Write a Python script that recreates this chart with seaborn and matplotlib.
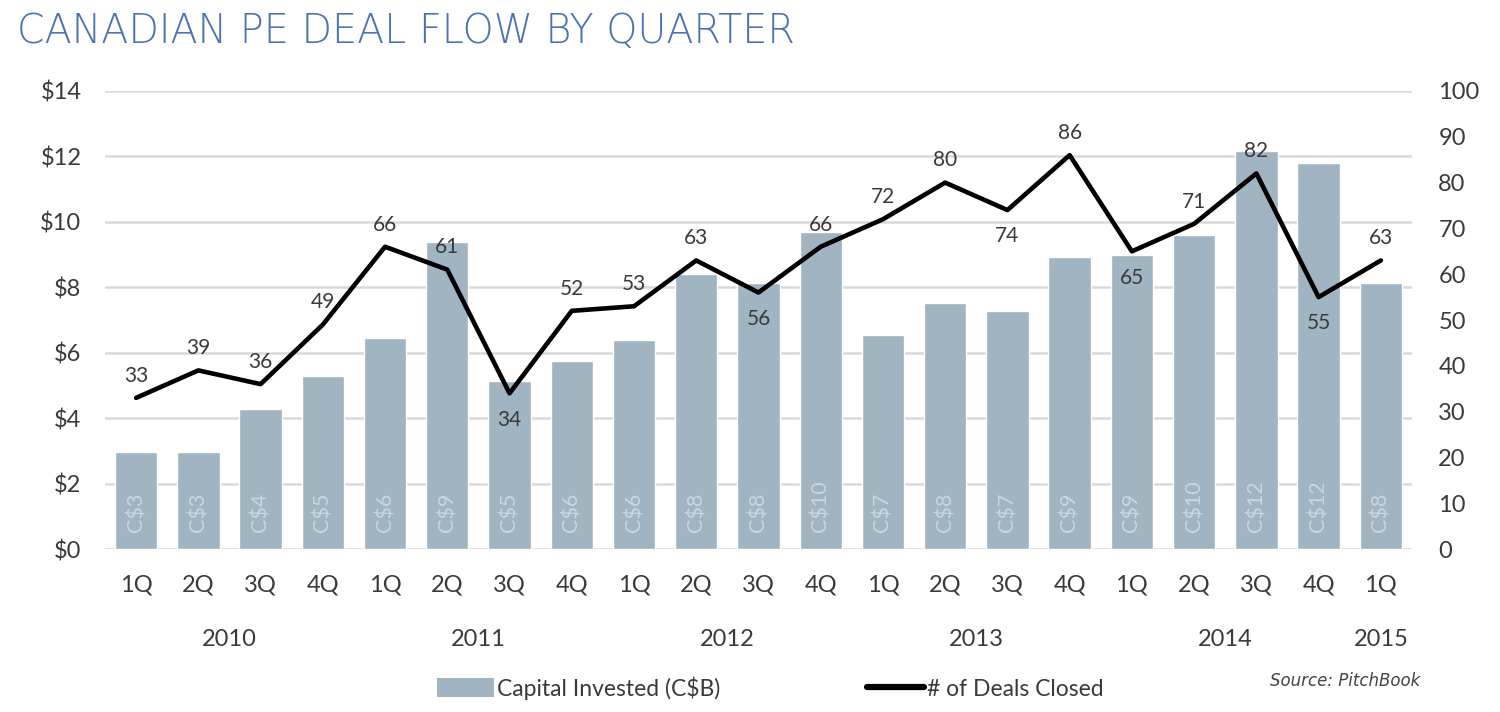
import matplotlib
matplotlib.use("Agg")
import matplotlib.pyplot as plt
import matplotlib.transforms as mtransforms
from matplotlib import font_manager
from matplotlib.patches import Patch
from matplotlib.lines import Line2D
import seaborn as sns
import pandas as pd

# ---------------- data ----------------
quarters = ["1Q", "2Q", "3Q", "4Q", "1Q", "2Q", "3Q", "4Q", "1Q", "2Q", "3Q", "4Q",
            "1Q", "2Q", "3Q", "4Q", "1Q", "2Q", "3Q", "4Q", "1Q"]
years = [2010] * 4 + [2011] * 4 + [2012] * 4 + [2013] * 4 + [2014] * 4 + [2015]
capital = [2.97, 2.96, 4.27, 5.30, 6.46, 9.38, 5.14, 5.75, 6.39, 8.41, 8.13, 9.68,
           6.55, 7.51, 7.27, 8.93, 8.99, 9.60, 12.18, 11.79, 8.12]
deals = [33, 39, 36, 49, 66, 61, 34, 52, 53, 63, 56, 66,
         72, 80, 74, 86, 65, 71, 82, 55, 63]
below_labels = [34, 56, 74, 65, 55]  # deal counts whose label sits below the point
left_ticks = [0, 2, 4, 6, 8, 10, 12, 14]
right_ticks = [0, 10, 20, 30, 40, 50, 60, 70, 80, 90, 100]
title = "CANADIAN PE DEAL FLOW BY QUARTER"

# ---------------- fonts ----------------
fonts = font_manager.fontManager.ttflist
names = {f.name for f in fonts}
def pick(*cands):
    for c in cands:
        if c in names:
            return c
    return "DejaVu Sans"
body_font = pick("Lato", "Open Sans", "Liberation Sans")

def weights(fam):
    out = set()
    for f in fonts:
        if f.name == fam:
            w = f.weight
            if isinstance(w, str):
                w = font_manager.weight_dict.get(w, 400)
            out.add(int(w))
    return out

title_font, title_weight, title_size = "Open Sans", 300, 30
if weights("DejaVu Sans") & {200, 300}:
    title_font, title_weight, title_size = "DejaVu Sans", 200, 28.5
elif not (weights("Open Sans") & {300}):
    title_font, title_weight, title_size = "Lato", "normal", 28

sns.set_theme(style="white")
plt.rcParams["font.family"] = [body_font, "DejaVu Sans"]

BAR = "#a0b4c1"
INBAR = "#cbd7e0"
TXT = "#3a3a3a"
GRID = "#d9d9d9"

df = pd.DataFrame({
    "pos": list(range(len(quarters))),
    "key": [f"{y} {q}" for y, q in zip(years, quarters)],
    "quarter": quarters,
    "year": years,
    "capital": capital,
    "deals": deals,
})

fig = plt.figure(figsize=(15, 7.12), dpi=100)
ax = fig.add_axes([0.07, 0.2289, 0.8713, 0.6433])

sns.barplot(data=df, x="key", y="capital", order=df["key"], color=BAR,
            saturation=1, width=0.68, ax=ax, zorder=2)
ax.set_xlim(-0.5, len(quarters) - 0.5)
ax.set_ylim(0, 14)
ax.set_yticks(left_ticks)
ax.set_yticklabels([f"${v}" for v in left_ticks])
ax.set_xticks(range(len(quarters)))
ax.set_xticklabels(quarters)
ax.set_xlabel("")
ax.set_ylabel("")
ax.grid(axis="y", color=GRID, linewidth=1.8, zorder=0)
ax.set_axisbelow(True)
for s in ax.spines.values():
    s.set_visible(False)
ax.tick_params(axis="x", length=0, pad=18, labelsize=17, labelcolor=TXT)
ax.tick_params(axis="y", length=0, pad=17, labelsize=17, labelcolor=TXT)

# labels inside bars
for i, v in enumerate(capital):
    ax.annotate(f"C${round(v)}", xy=(i, 0), xytext=(0, 12), textcoords="offset points",
                rotation=90, ha="center", va="bottom", color=INBAR, fontsize=15.5, zorder=3)

# line on twin axis
ax2 = ax.twinx()
sns.lineplot(data=df, x="pos", y="deals", color="black", linewidth=3.3, ax=ax2,
             zorder=4, legend=False)
ax2.set_ylim(0, 100)
ax2.set_yticks(right_ticks)
ax2.set_yticklabels([str(v) for v in right_ticks])
ax2.set_xlim(-0.5, len(quarters) - 0.5)
ax2.set_ylabel("")
ax2.set_xlabel("")
ax2.grid(False)
for s in ax2.spines.values():
    s.set_visible(False)
ax2.tick_params(axis="y", length=0, pad=19, labelsize=17, labelcolor=TXT)

for i, d in enumerate(deals):
    off = -19 if d in below_labels else 16
    ax2.annotate(str(d), xy=(i, d), xytext=(0, off), textcoords="offset points",
                 ha="center", va="center", fontsize=15, color=TXT, zorder=5)

# year labels centered under each group
trans = mtransforms.blended_transform_factory(ax.transData, fig.transFigure)
for y in sorted(set(years)):
    idx = [i for i, yy in enumerate(years) if yy == y]
    ax.text(sum(idx) / len(idx), 1 - 640 / 712, str(y), transform=trans,
            ha="center", va="center", fontsize=17, color=TXT)

# title
fig.text(17 / 1500, 1 - 32 / 712, title, ha="left", va="center",
         fontsize=title_size, color="#4d72b3", family=title_font, fontweight=title_weight)

# legend
handles = [Patch(facecolor=BAR, edgecolor="none"),
           Line2D([0], [0], color="black", linewidth=4.5)]
fig.legend(handles, ["Capital Invested (C$B)", "# of Deals Closed"],
           loc="center", bbox_to_anchor=(770 / 1500, 1 - 688 / 712), ncol=2,
           frameon=False, fontsize=16.5, handlelength=2.5, handleheight=0.9,
           handletextpad=0.12, columnspacing=6.4, labelcolor=TXT)

fig.text(1420 / 1500, 1 - 681 / 712, "Source: PitchBook", ha="right", va="center",
         fontsize=12, style="italic", color="#444444", family="DejaVu Sans")

fig.savefig("out.png", dpi=100)
